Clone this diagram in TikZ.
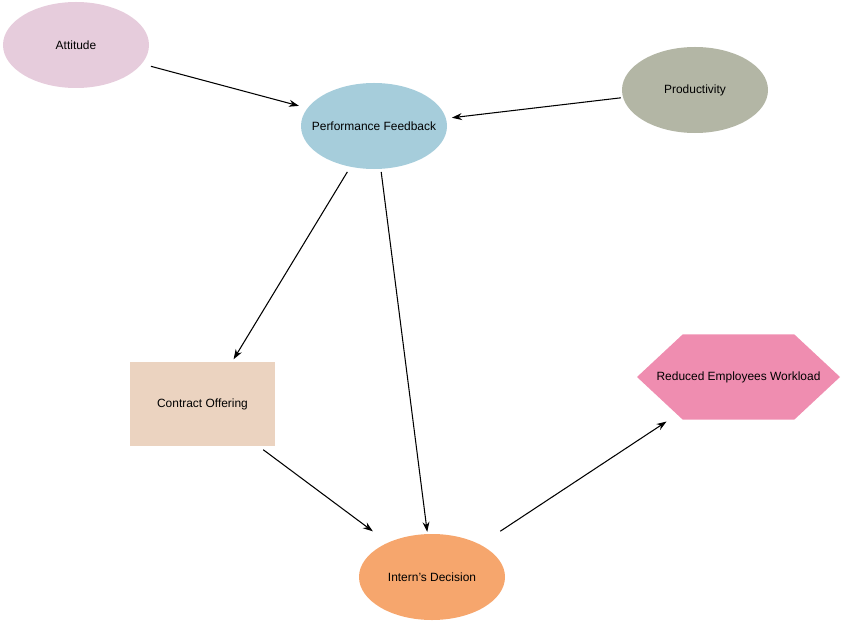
\documentclass[tikz,border=0pt]{standalone}
\usepackage{fontspec}
\setmainfont{Liberation Sans}
\usetikzlibrary{arrows.meta,calc,shapes.geometric,shapes.symbols}
\definecolor{attcol}{HTML}{E6CCDC}
\definecolor{pfcol}{HTML}{A6CDDB}
\definecolor{prodcol}{HTML}{B3B6A5}
\definecolor{cocol}{HTML}{EBD3C0}
\definecolor{rwcol}{HTML}{EF8DB0}
\definecolor{idcol}{HTML}{F6A66D}
\newcommand{\lbl}[1]{\makebox[0pt]{#1}}
\begin{document}
\begin{tikzpicture}[x=0.03cm, y=-0.03cm, every node/.style={font=\fontsize{10.2}{12}\selectfont, inner sep=0pt},
  oval/.style={ellipse, minimum width=4.38cm, minimum height=2.58cm},
  link/.style={line width=0.9pt, -{Stealth[length=3mm, width=2.1mm]}}]
\useasboundingbox (0,0) rectangle (845,625);
% factors
\node[oval, fill=attcol] (att) at (76,45) {\lbl{Attitude}};
\node[oval, fill=pfcol] (pf) at (374,126) {\lbl{Performance Feedback}};
\node[oval, fill=prodcol] (prod) at (695,90) {\lbl{Productivity}};
\node[fill=cocol, minimum width=4.35cm, minimum height=2.52cm] (co) at (202.5,404) {\lbl{Contract Offering}};
\node[signal, signal to=east and west, signal pointer angle=86, fill=rwcol, minimum width=6.09cm, minimum height=2.56cm] (rw) at (738.5,377) {\lbl{Reduced Employees Workload}};
\node[oval, fill=idcol] (id) at (432,577) {\lbl{Intern's Decision}};
% links
\draw[link, shorten <=8pt, shorten >=7.4pt] (att.-16) -- (pf.165);
\draw[link, shorten <=1.7pt, shorten >=5pt] (prod.186) -- (pf.6);
\draw[link, shorten <=5pt, shorten >=2.5pt] (pf.240) -- (co.55);
\draw[link, shorten <=2.5pt, shorten >=1.7pt] (pf.279) -- (id.96);
\draw[link, shorten <=5pt, shorten >=16pt] (co.-37) -- (id.142);
\draw[link, shorten <=20.5pt, shorten >=2.5pt] (id.34) -- ($(rw.south)+(-69.5,0)$);
\end{tikzpicture}
\end{document}
